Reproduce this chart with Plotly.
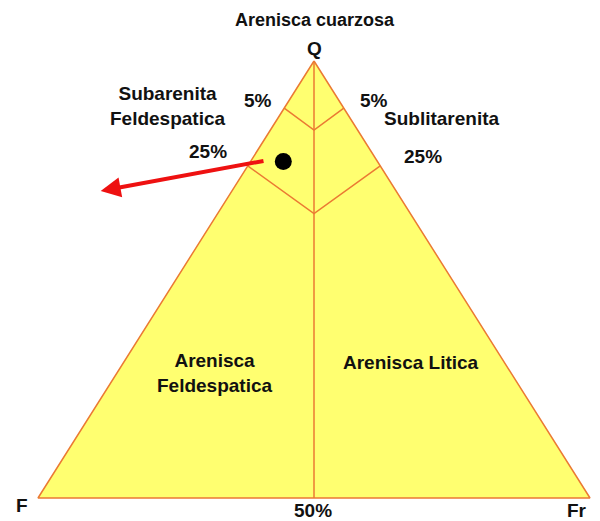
import plotly.graph_objects as go

# Composiciones ternarias (Q, F, Fr) en %
vertex_names = ["Q", "F", "Fr"]
tri_q = [100, 0, 0, 100]
tri_f = [0, 100, 0, 0]
tri_fr = [0, 0, 100, 0]

# linea central Q -> 50%
mid_q = [100, 0]
mid_f = [0, 50]
mid_fr = [0, 50]

# limite 5%
l5_q = [89.2, 84.2, 89.2]
l5_f = [10.8, 7.9, 0]
l5_fr = [0, 7.9, 10.8]

# limite 25%
l25_q = [76.0, 65.1, 76.0]
l25_f = [24.0, 17.45, 0]
l25_fr = [0, 17.45, 24.0]

# muestra
sample_q = [77.0]
sample_f = [17.06]
sample_fr = [5.94]

# flecha (cola, punta)
arrow_q = [77.2, 70.25]
arrow_f = [20.28, 53.52]
arrow_fr = [2.52, -23.77]


def proj(q, f, fr):
    # base F -> Fr en x, Q en y
    x = [b + a / 2 for a, b in zip(q, fr)]
    return x, list(q)


EDGE = "#EB7A33"
FILL = "#FFFF70"
FONT = "Liberation Sans"

fig = go.Figure()

x, y = proj(tri_q, tri_f, tri_fr)
fig.add_trace(go.Scatter(x=x, y=y, mode="lines", fill="toself", fillcolor=FILL,
                         line=dict(color=EDGE, width=1.5), hoverinfo="skip"))

for q, f, fr in [(mid_q, mid_f, mid_fr), (l5_q, l5_f, l5_fr), (l25_q, l25_f, l25_fr)]:
    x, y = proj(q, f, fr)
    fig.add_trace(go.Scatter(x=x, y=y, mode="lines", line=dict(color=EDGE, width=1.5),
                             hoverinfo="skip"))

x, y = proj(sample_q, sample_f, sample_fr)
fig.add_trace(go.Scatter(x=x, y=y, mode="markers",
                         marker=dict(color="black", size=17)))

ax_, ay_ = proj(arrow_q, arrow_f, arrow_fr)
fig.add_annotation(x=ax_[1], y=ay_[1], ax=ax_[0], ay=ay_[0], axref="x", ayref="y",
                   xref="x", yref="y", text="", showarrow=True, arrowhead=2,
                   arrowsize=1, arrowwidth=4, arrowcolor="#EE1111", standoff=0)

# etiquetas (posicion en pixeles de la figura)
labels = [
    ("Arenisca cuarzosa", 315, 20, 18),
    ("Q", 314, 48, 19),
    ("5%", 258, 100, 19),
    ("5%", 374, 100, 19),
    ("Subarenita<br>Feldespatica", 168, 106, 19),
    ("Sublitarenita", 442, 118, 19),
    ("25%", 208, 151, 19),
    ("25%", 423, 156, 19),
    ("Arenisca<br>Feldespatica", 215, 373, 19),
    ("Arenisca Litica", 411, 362, 19),
    ("F", 22, 505, 19),
    ("50%", 313, 510, 19),
    ("Fr", 577, 510, 19),
]
for txt, px, py, size in labels:
    fig.add_annotation(x=px / 600, y=1 - py / 521, xref="paper", yref="paper",
                       text="<b>" + txt + "</b>", showarrow=False,
                       font=dict(family=FONT, size=size, color="#111111"),
                       xanchor="center", yanchor="middle")

fig.update_layout(
    width=600, height=521, margin=dict(l=0, r=0, t=0, b=0),
    paper_bgcolor="white", plot_bgcolor="white", showlegend=False,
    xaxis=dict(range=[-38 / 5.52, 562 / 5.52], visible=False, fixedrange=True),
    yaxis=dict(range=[-23 / 4.37, 498 / 4.37], visible=False, fixedrange=True),
)

fig.write_html("out.html", config={"displayModeBar": False},
               post_script="document.body.style.margin='0';")
